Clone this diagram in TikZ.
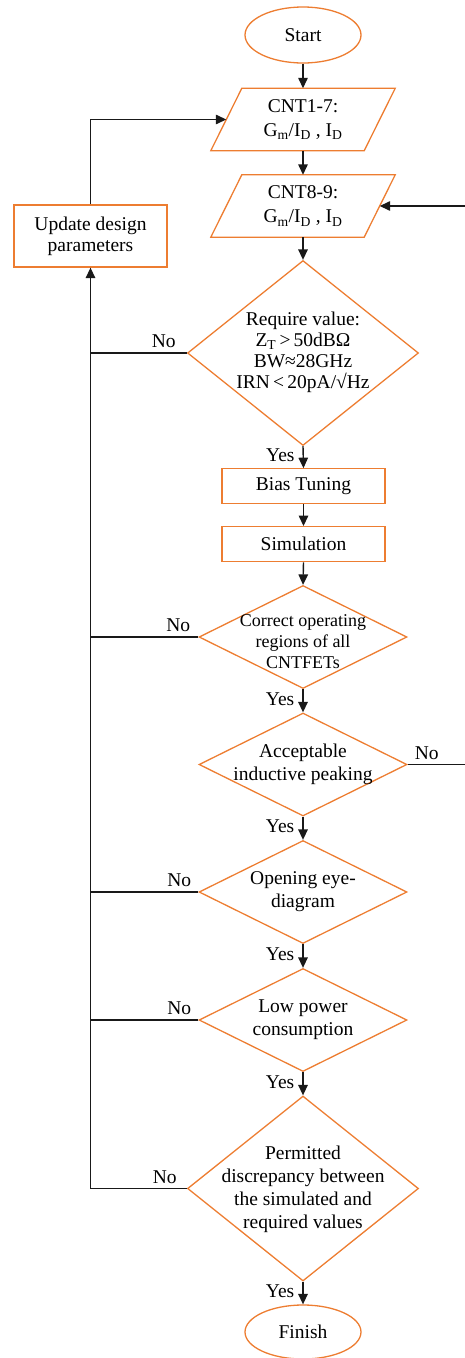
\documentclass[tikz,border=0pt]{standalone}
\usepackage{fontspec}
\setmainfont{Liberation Serif}
\usetikzlibrary{shapes.geometric,arrows.meta}
\definecolor{fcorange}{RGB}{237,125,49}
\definecolor{lineblack}{RGB}{25,25,25}
\begin{document}
\begin{tikzpicture}[x=1pt,y=-1pt,
  txt/.style={font=\fontsize{19.5}{23}\selectfont, align=center, inner sep=0pt},
  txtsm/.style={font=\fontsize{18}{21}\selectfont, align=center, inner sep=0pt},
  terminal/.style={ellipse, draw=fcorange, line width=1.3pt, minimum width=116pt, minimum height=56pt, inner sep=0pt, font=\fontsize{19.5}{23}\selectfont},
  procbox/.style={rectangle, draw=fcorange, line width=1.3pt, inner sep=0pt, font=\fontsize{19.5}{23}\selectfont, align=center},
  iobox/.style={rectangle, draw=none, minimum width=153pt, minimum height=62pt, inner sep=0pt, font=\fontsize{19.5}{24}\selectfont, align=center},
  decision/.style={diamond, draw=fcorange, line width=1.3pt, inner sep=0pt},
  conn/.style={draw=lineblack, line width=1.4pt},
  arr/.style={conn, -{Triangle[length=10.5pt,width=9.5pt]}},
  lbl/.style={font=\fontsize{19.5}{23}\selectfont, inner sep=0pt},
  yeslbl/.style={lbl, left, xshift=-8pt, yshift=2pt}
]
\useasboundingbox (0,0) rectangle (465,1358);

% terminals
\node[terminal] (start) at (303,35) {Start};
\node[terminal, minimum height=54pt] (fin) at (303,1332) {Finish};

% input/output parallelograms
\node[iobox] (cnt17) at (303,119.5) {CNT1-7:\\G\textsubscript{m}/I\textsubscript{D} , I\textsubscript{D}};
\draw[draw=fcorange, line width=1.3pt, line join=miter]
  ([xshift=15.5pt]cnt17.north west) -- ([xshift=15.5pt]cnt17.north east)
  -- ([xshift=-15.5pt]cnt17.south east) -- ([xshift=-15.5pt]cnt17.south west) -- cycle;
\node[iobox] (cnt89) at (303,206) {CNT8-9:\\G\textsubscript{m}/I\textsubscript{D} , I\textsubscript{D}};
\draw[draw=fcorange, line width=1.3pt, line join=miter]
  ([xshift=15.5pt]cnt89.north west) -- ([xshift=15.5pt]cnt89.north east)
  -- ([xshift=-15.5pt]cnt89.south east) -- ([xshift=-15.5pt]cnt89.south west) -- cycle;

% update box
\node[procbox, minimum width=153pt, minimum height=62pt, font=\fontsize{19.5}{21}\selectfont] (upd) at (90.5,236) {Update design\\parameters};

% decision 1
\node[decision, minimum width=231pt, minimum height=185pt] (d1) at (303,353) {};
\node[txt, font=\fontsize{19.5}{21}\selectfont] (d1t) at (303,352) {Require value:\\Z\textsubscript{T}\,>\,50dBΩ\\BW≈28GHz\\IRN\,<\,20pA/√Hz};

% process boxes
\node[procbox, minimum width=163pt, minimum height=35pt] (bias) at (303.5,486.3) {Bias Tuning};
\node[procbox, minimum width=163pt, minimum height=35pt] (sim) at (303.5,544.2) {Simulation};

% decision 2
\node[decision, minimum width=208pt, minimum height=103pt] (d2) at (303,637) {};
\node[txtsm] (d2t) at (303,642) {Correct operating\\regions of all\\CNTFETs};

% decision 3
\node[decision, minimum width=208pt, minimum height=103pt] (d3) at (303,764.5) {};
\node[txt] (d3t) at (303,764) {Acceptable\\inductive peaking};

% decision 4
\node[decision, minimum width=208pt, minimum height=103pt] (d4) at (303,892) {};
\node[txt] (d4t) at (303,892) {Opening eye-\\diagram};

% decision 5
\node[decision, minimum width=208pt, minimum height=103pt] (d5) at (303,1020) {};
\node[txt] (d5t) at (303,1020) {Low power\\consumption};

% decision 6
\node[decision, minimum width=231pt, minimum height=185pt] (d6) at (303,1188.5) {};
\node[txt] (d6t) at (303,1189) {Permitted\\discrepancy between\\the simulated and\\required values};

% main flow
\draw[arr] (start.south) -- (cnt17.north);
\draw[arr] (cnt17.south) -- (cnt89.north);
\draw[arr] (cnt89.south) -- (d1.north);
\draw[arr] (d1.south) -- node[yeslbl] (y1) {Yes} (bias.north);
\draw[arr] (bias.south) -- (sim.north);
\draw[arr] (sim.south) -- (d2.north);
\draw[arr] (d2.south) -- node[yeslbl] (y2) {Yes} (d3.north);
\draw[arr] (d3.south) -- node[yeslbl] (y3) {Yes} (d4.north);
\draw[arr] (d4.south) -- node[yeslbl] (y4) {Yes} (d5.north);
\draw[arr] (d5.south) -- node[yeslbl] (y5) {Yes} (d6.north);
\draw[arr] (d6.south) -- node[yeslbl] (y6) {Yes} (fin.north);

% feedback loop on the left
\draw[conn] (d1.west) -- (d1.west -| upd.south);
\draw[conn] (d2.west) -- (d2.west -| upd.south);
\draw[conn] (d4.west) -- (d4.west -| upd.south);
\draw[conn] (d5.west) -- (d5.west -| upd.south);
\draw[arr] (d6.west) -| (upd.south);
\draw[arr] (upd.north) |- (cnt17.west);

\node[lbl, anchor=south east] (n1) at ([xshift=-11pt,yshift=5pt]d1.west) {No};
\node[lbl, anchor=south east] (n2) at ([xshift=-8pt,yshift=5pt]d2.west) {No};
\node[lbl, anchor=south east] (n4) at ([xshift=-7pt,yshift=5pt]d4.west) {No};
\node[lbl, anchor=south east] (n5) at ([xshift=-7pt,yshift=5pt]d5.west) {No};
\node[lbl, anchor=south east] (n6) at ([xshift=-10pt,yshift=5pt]d6.west) {No};

% right-hand loop (leaves the picture)
\coordinate (rout) at (465,764.5);
\coordinate (rin) at (465,206);
\draw[conn] (d3.east) -- (rout);
\draw[arr] (rin) -- (cnt89.east);
\node[lbl, anchor=south west] (n3) at ([xshift=7pt,yshift=5pt]d3.east) {No};
\end{tikzpicture}
\end{document}
